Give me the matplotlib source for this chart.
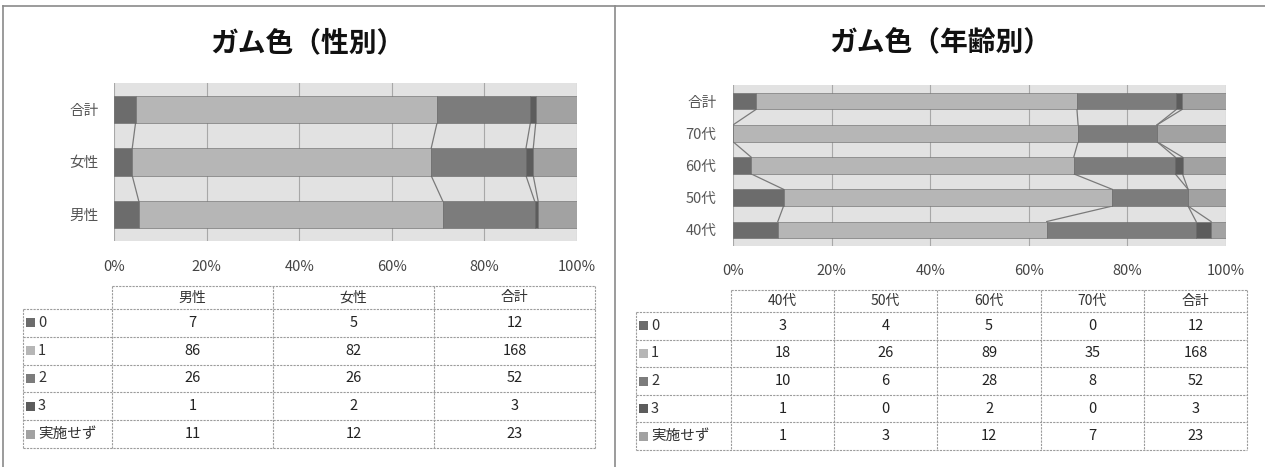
import numpy as np
import matplotlib
matplotlib.use('Agg')
import matplotlib.pyplot as plt
from matplotlib.patches import Rectangle

plt.rcParams['font.family'] = ['Noto Sans CJK JP', 'DejaVu Sans']

W, H = 1265, 467

# 回答区分
series_names = ['0', '1', '2', '3', '実施せず']
series_colors = ['#6c6c6c', '#b6b6b6', '#7c7c7c', '#5c5c5c', '#a2a2a2']

# 性別の集計（行：回答区分、列：男性・女性・合計）
sex_labels = ['男性', '女性', '合計']
sex_counts = [
    [7, 5, 12],
    [86, 82, 168],
    [26, 26, 52],
    [1, 2, 3],
    [11, 12, 23],
]

# 年齢別の集計
age_labels = ['40代', '50代', '60代', '70代', '合計']
age_counts = [
    [3, 4, 5, 0, 12],
    [18, 26, 89, 35, 168],
    [10, 6, 28, 8, 52],
    [1, 0, 2, 0, 3],
    [1, 3, 12, 7, 23],
]


def px_rect(x0, y0, x1, y1):
    # ピクセル座標 -> figure座標
    return [x0 / W, 1 - y1 / H, (x1 - x0) / W, (y1 - y0) / H]


def draw_bars(fig, rect, labels, counts, xpad, ypad):
    ax = fig.add_axes(rect)
    a_counts = np.array(counts, dtype=float)
    a_pct = a_counts / a_counts.sum(axis=0) * 100
    y = np.arange(len(labels))
    h = 0.52
    left = np.zeros(len(labels))
    cums = []
    for k in range(len(series_names)):
        ax.barh(y, a_pct[k], left=left, height=h, color=series_colors[k],
                edgecolor='#666666', linewidth=0.4, zorder=3)
        left = left + a_pct[k]
        cums.append(left.copy())

    # 系列線
    for k in range(len(series_names) - 1):
        for i in range(len(labels) - 1):
            ax.plot([cums[k][i], cums[k][i + 1]], [y[i] + h / 2, y[i + 1] - h / 2],
                    color='#7a7a7a', lw=0.9, zorder=2)

    ax.set_xlim(0, 100)
    ax.set_ylim(-0.5, len(labels) - 0.5)
    ax.set_facecolor('#e2e2e2')
    ax.set_xticks(np.arange(0, 101, 20))
    ax.set_xticklabels([str(v) + '%' for v in range(0, 101, 20)])
    ax.set_yticks(y)
    ax.set_yticklabels(labels)
    ax.grid(axis='x', color='#a8a8a8', lw=0.8, zorder=1)
    for s in ax.spines.values():
        s.set_visible(False)
    ax.tick_params(axis='x', length=0, labelsize=10.5, colors='#444444', pad=xpad)
    ax.tick_params(axis='y', length=0, labelsize=10.5, colors='#555555', pad=ypad)
    return ax


def draw_table(ov, x0, xs, top, head_h, row_h, labels, counts):
    # xs: 凡例列の右端から表の右端までの列境界
    line_kw = dict(color='#9c9c9c', lw=0.8, linestyle=(0, (2, 1)))
    n_rows = len(series_names)
    bottom = top + head_h + row_h * n_rows
    ov.plot([xs[0], xs[-1]], [top, top], **line_kw)
    for r in range(n_rows + 1):
        yy = top + head_h + row_h * r
        ov.plot([x0, xs[-1]], [yy, yy], **line_kw)
    ov.plot([x0, x0], [top + head_h, bottom], **line_kw)
    for xx in xs:
        ov.plot([xx, xx], [top, bottom], **line_kw)

    # 見出し
    for c, lab in enumerate(labels):
        cx = (xs[c] + xs[c + 1]) / 2
        ov.text(cx, top + head_h / 2, lab, ha='center', va='center',
                fontsize=10, color='#333333')

    # 凡例と数値
    for r in range(n_rows):
        cy = top + head_h + row_h * (r + 0.5)
        ov.add_patch(Rectangle((x0 + 3, cy - 4.5), 9, 9, facecolor=series_colors[r],
                               edgecolor='none'))
        ov.text(x0 + 15, cy, series_names[r], ha='left', va='center',
                fontsize=10.5, color='#333333')
        for c in range(len(labels)):
            cx = (xs[c] + xs[c + 1]) / 2
            ov.text(cx, cy, str(counts[r][c]), ha='center', va='center',
                    fontsize=10.5, color='#222222')


fig = plt.figure(figsize=(W / 100, H / 100), dpi=100)

# 枠線・表用のオーバーレイ
ov = fig.add_axes([0, 0, 1, 1])
ov.set_xlim(0, W)
ov.set_ylim(H, 0)
ov.axis('off')

frame_kw = dict(color='#8a8a8a', lw=1.2)
ov.plot([3, W], [6, 6], **frame_kw)
ov.plot([3, 3], [6, H], **frame_kw)
ov.plot([615, 615], [6, H], **frame_kw)

# タイトル
ov.text(307, 43, 'ガム色（性別）', ha='center', va='center', fontsize=20,
        fontweight='bold', color='#111111')
ov.text(940, 43, 'ガム色（年齢別）', ha='center', va='center', fontsize=20,
        fontweight='bold', color='#111111')

# 帯グラフ
draw_bars(fig, px_rect(114, 83, 577, 241), sex_labels, sex_counts, 14, 11)
draw_bars(fig, px_rect(733, 85, 1226, 246), age_labels, age_counts, 13, 12)

# 集計表
draw_table(ov, 23, [112, 273, 434, 595], 286, 23, 27.8, sex_labels, sex_counts)
draw_table(ov, 636, [731, 834, 937, 1041, 1144, 1247], 290, 22, 27.6, age_labels, age_counts)

fig.savefig('out.png', dpi=100)
